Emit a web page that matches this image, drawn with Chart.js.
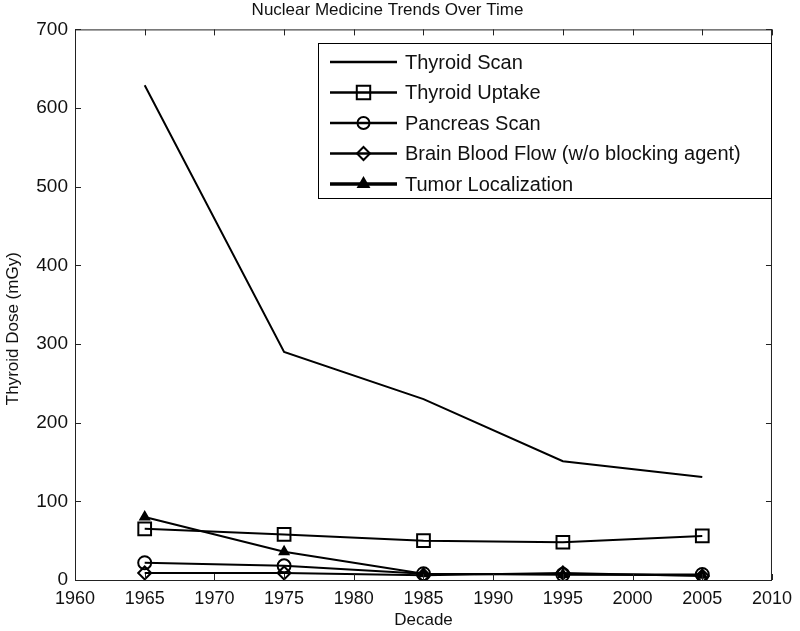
<!DOCTYPE html>
<html>
<head>
<meta charset="utf-8">
<script src="https://cdn.jsdelivr.net/npm/chart.js@4.4.1/dist/chart.umd.min.js"></script>
<style>
  html, body { margin: 0; padding: 0; background: #fff; }
  #wrap { width: 800px; height: 631px; }
</style>
</head>
<body>
<div id="wrap"><canvas id="doseChart" width="800" height="631"></canvas></div>
<script>
const decades = [1965, 1975, 1985, 1995, 2005];
const xTicks = [1960, 1965, 1970, 1975, 1980, 1985, 1990, 1995, 2000, 2005, 2010];
const yTicks = [0, 100, 200, 300, 400, 500, 600, 700];
const yTitle = 'Thyroid Dose (mGy)';

const thyroidScan = [629, 290, 230, 151, 131];
const thyroidUptake = [65, 58, 50, 48, 56];
const pancreasScan = [22, 18, 8, 7, 7];
const brainBloodFlow = [9, 9, 6, 9, 5];
const tumorLocalization = [80, 36, 8, 7, 6];

const FONT = "'Liberation Sans', Arial, sans-serif";

function pts(vals) {
    return vals.map((v, i) => ({ x: decades[i], y: v }));
}

function series(label, vals, style, radius, legendRadius, filled) {
    return {
        label: label,
        data: pts(vals),
        borderColor: '#000',
        backgroundColor: filled ? '#000' : 'rgba(0,0,0,0)',
        borderWidth: 2,
        pointStyle: style,
        pointRadius: radius,
        legendRadius: legendRadius,
        pointBorderWidth: 2,
        pointBorderColor: '#000',
        pointBackgroundColor: filled ? '#000' : 'rgba(0,0,0,0)',
        tension: 0,
        fill: false
    };
}

// box frame, inward ticks, y title and the legend inside the plot
const matlabLook = {
    id: 'matlabLook',
    afterDraw(chart) {
        const ctx = chart.ctx;
        const a = chart.chartArea;
        const xs = chart.scales.x, ys = chart.scales.y;
        ctx.save();
        ctx.strokeStyle = '#222';
        ctx.lineWidth = 1;
        ctx.strokeRect(a.left + 0.5, a.top + 0.5, a.right - a.left - 1, a.bottom - a.top);
        ctx.beginPath();
        xTicks.forEach(t => {
            const px = Math.round(xs.getPixelForValue(t)) + 0.5;
            ctx.moveTo(px, a.bottom); ctx.lineTo(px, a.bottom - 6);
            ctx.moveTo(px, a.top); ctx.lineTo(px, a.top + 6);
        });
        yTicks.forEach(t => {
            const py = Math.round(ys.getPixelForValue(t)) + 0.5;
            ctx.moveTo(a.left, py); ctx.lineTo(a.left + 6, py);
            ctx.moveTo(a.right, py); ctx.lineTo(a.right - 6, py);
        });
        ctx.stroke();

        // y axis title (sits a bit below the middle in the original)
        ctx.save();
        ctx.translate(13, (a.top + a.bottom) / 2 + 24);
        ctx.rotate(-Math.PI / 2);
        ctx.font = '17px ' + FONT;
        ctx.fillStyle = '#111';
        ctx.textAlign = 'center';
        ctx.textBaseline = 'middle';
        ctx.fillText(yTitle, 0, 0);
        ctx.restore();

        // legend
        const bx = 318, by = 43, bw = 453, bh = 155;
        ctx.fillStyle = '#fff';
        ctx.fillRect(bx, by, bw, bh);
        ctx.strokeStyle = '#000';
        ctx.lineWidth = 1;
        ctx.strokeRect(bx + 0.5, by + 0.5, bw, bh);
        ctx.font = '20px ' + FONT;
        ctx.textBaseline = 'middle';
        chart.data.datasets.forEach((ds, i) => {
            const y = by + 19 + i * 30.5;
            ctx.strokeStyle = '#000';
            ctx.lineWidth = ds.label === 'Tumor Localization' ? 3.5 : 2.5;
            ctx.beginPath();
            ctx.moveTo(330, y); ctx.lineTo(397, y);
            ctx.stroke();
            if (ds.pointRadius > 0 && Chart.helpers && Chart.helpers.drawPoint) {
                ctx.fillStyle = ds.pointBackgroundColor;
                ctx.lineWidth = 2;
                Chart.helpers.drawPoint(ctx, {
                    pointStyle: ds.pointStyle,
                    radius: ds.legendRadius,
                    rotation: 0,
                    borderWidth: 2
                }, 363.5, y);
            }
            ctx.fillStyle = '#111';
            ctx.fillText(ds.label, 405, y + 1);
        });
        ctx.restore();
    }
};

const ctx = document.getElementById('doseChart').getContext('2d');
const myChart = new Chart(ctx, {
    type: 'line',
    data: {
        datasets: [
            series('Thyroid Scan', thyroidScan, 'circle', 0, 0, false),
            series('Thyroid Uptake', thyroidUptake, 'rect', 9, 9.5, false),
            series('Pancreas Scan', pancreasScan, 'circle', 6.5, 6, false),
            series('Brain Blood Flow (w/o blocking agent)', brainBloodFlow, 'rectRot', 6.5, 6.5, false),
            series('Tumor Localization', tumorLocalization, 'triangle', 5, 6, true)
        ]
    },
    options: {
        responsive: false,
        animation: false,
        layout: { padding: { left: 0, right: 25, top: 0, bottom: 0 } },
        plugins: {
            legend: { display: false },
            tooltip: { enabled: false },
            title: {
                display: true,
                text: 'Nuclear Medicine Trends Over Time',
                color: '#111',
                font: { family: FONT, size: 17, weight: 'normal' },
                padding: { top: 0, bottom: 9 }
            }
        },
        scales: {
            x: {
                type: 'linear',
                min: 1960,
                max: 2010,
                afterBuildTicks: s => { s.ticks = xTicks.map(v => ({ value: v })); },
                afterFit: s => { s.height = 51; },
                grid: { display: false, drawTicks: false },
                border: { display: false },
                ticks: {
                    color: '#111',
                    padding: 8,
                    maxRotation: 0,
                    autoSkip: false,
                    font: { family: FONT, size: 18 },
                    callback: v => String(v)
                },
                title: {
                    display: true,
                    text: 'Decade',
                    color: '#111',
                    font: { family: FONT, size: 17 },
                    padding: { top: 0, bottom: 0 }
                }
            },
            y: {
                min: 0,
                max: 700,
                afterBuildTicks: s => { s.ticks = yTicks.map(v => ({ value: v })); },
                afterFit: s => { s.width = 75; },
                grid: { display: false, drawTicks: false },
                border: { display: false },
                ticks: {
                    color: '#111',
                    padding: 7,
                    autoSkip: false,
                    font: { family: FONT, size: 19 }
                },
                title: { display: false }
            }
        }
    },
    plugins: [matlabLook]
});
</script>
</body>
</html>
